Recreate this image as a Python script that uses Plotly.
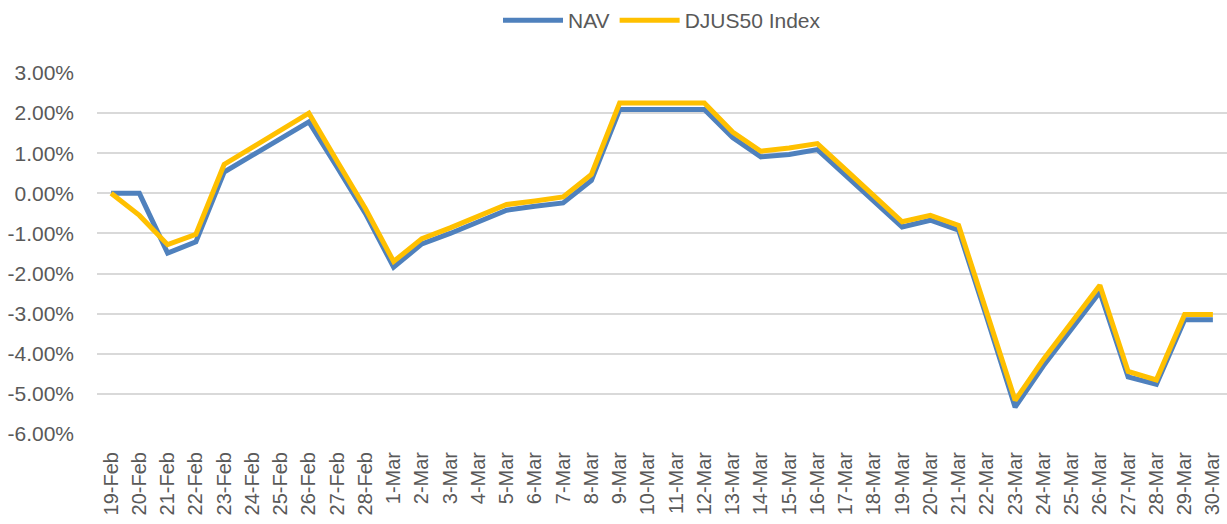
import plotly.graph_objects as go

dates = [
    "19-Feb", "20-Feb", "21-Feb", "22-Feb", "23-Feb", "24-Feb", "25-Feb", "26-Feb", "27-Feb", "28-Feb",
    "1-Mar", "2-Mar", "3-Mar", "4-Mar", "5-Mar", "6-Mar", "7-Mar", "8-Mar", "9-Mar", "10-Mar",
    "11-Mar", "12-Mar", "13-Mar", "14-Mar", "15-Mar", "16-Mar", "17-Mar", "18-Mar", "19-Mar", "20-Mar",
    "21-Mar", "22-Mar", "23-Mar", "24-Mar", "25-Mar", "26-Mar", "27-Mar", "28-Mar", "29-Mar", "30-Mar",
]

nav = [
    0.00, 0.00, -1.49, -1.21, 0.53, 0.95, 1.37, 1.78, 0.65, -0.50,
    -1.84, -1.26, -1.00, -0.72, -0.42, -0.32, -0.24, 0.32, 2.09, 2.09,
    2.09, 2.09, 1.39, 0.91, 0.97, 1.09, 0.45, -0.20, -0.84, -0.67,
    -0.92, -3.10, -5.33, -4.30, -3.38, -2.46, -4.58, -4.76, -3.15, -3.15,
]

djus50 = [
    0.00, -0.55, -1.28, -1.02, 0.72, 1.15, 1.58, 2.00, 0.80, -0.38,
    -1.70, -1.13, -0.86, -0.57, -0.28, -0.19, -0.09, 0.47, 2.25, 2.25,
    2.25, 2.25, 1.53, 1.05, 1.13, 1.24, 0.59, -0.06, -0.71, -0.55,
    -0.80, -2.98, -5.16, -4.14, -3.22, -2.29, -4.44, -4.65, -3.02, -3.02,
]

y_ticks = [3, 2, 1, 0, -1, -2, -3, -4, -5, -6]

fig = go.Figure()
fig.add_trace(go.Scatter(
    x=dates, y=nav, mode="lines", name="NAV",
    line={"color": "#4F81BD", "width": 5},
))
fig.add_trace(go.Scatter(
    x=dates, y=djus50, mode="lines", name="DJUS50 Index",
    line={"color": "#FFC000", "width": 5},
))

fig.update_layout(
    width=1227, height=524,
    margin={"l": 97, "r": 0, "t": 73, "b": 90},
    plot_bgcolor="white", paper_bgcolor="white",
    font={"family": "Liberation Sans, Arial, sans-serif", "color": "#595959"},
    showlegend=True,
    legend={
        "orientation": "h", "x": 0.5, "xanchor": "center",
        "y": 1.147, "yanchor": "middle",
        "font": {"size": 21, "color": "#595959"},
        "itemwidth": 60,
    },
)
fig.update_xaxes(
    type="category", tickangle=-90, tickfont={"size": 20},
    showgrid=False, showline=False, ticks="", range=[-0.5, len(dates) - 0.5],
    automargin=False, ticklabelstandoff=13,
)
fig.update_yaxes(
    range=[-6, 3], tickvals=y_ticks,
    ticktext=[f"{v:.2f}%" for v in y_ticks],
    tickfont={"size": 21}, gridcolor="#D9D9D9", gridwidth=1.5,
    zeroline=False, showline=False, ticks="", ticklabelstandoff=22,
    automargin=False,
)

# la page par défaut garde la marge de 8px du body : on la retire
fig.write_html(
    "out.html",
    config={"displayModeBar": False},
    post_script="document.body.style.margin='0';",
)
